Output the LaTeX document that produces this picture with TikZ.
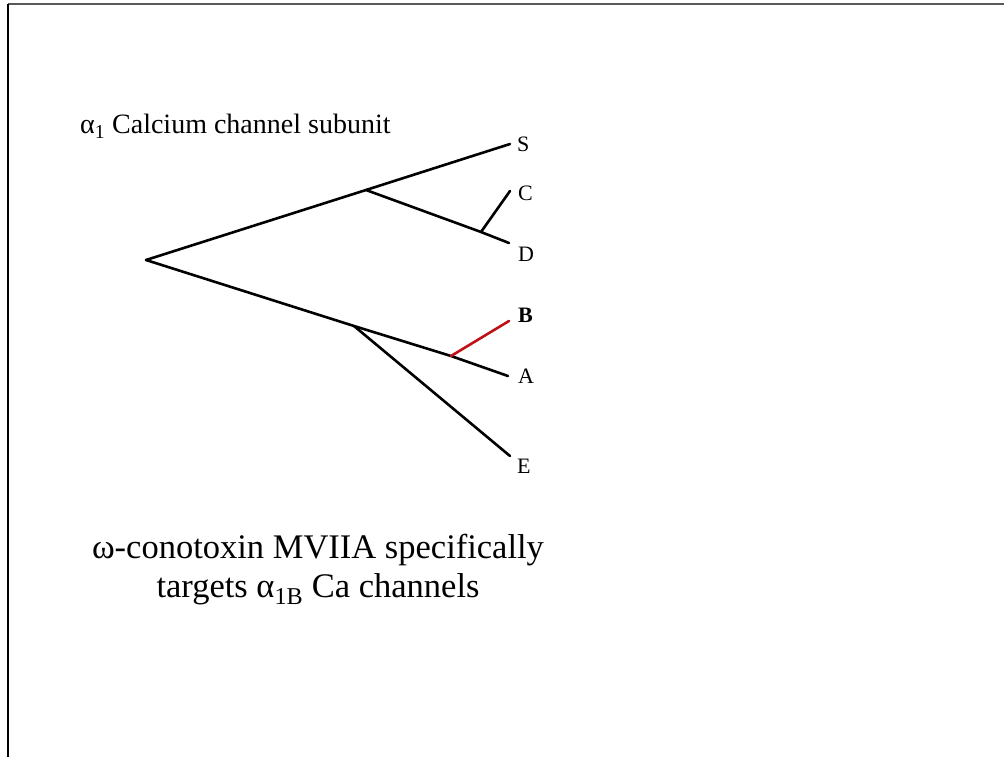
\documentclass[tikz,border=0pt]{standalone}
\usepackage{fontspec}
\setmainfont{Liberation Serif}
\usetikzlibrary{positioning}
\definecolor{branchred}{RGB}{192,16,24}
\tikzset{
  branch/.style={line width=2.6pt, line cap=round},
  leaf/.style={anchor=mid west, inner sep=0pt, font=\fontsize{22}{26}\selectfont},
}

\begin{document}
\begin{tikzpicture}[x=1pt, y=-1pt]
  \useasboundingbox (0,0) rectangle (1004,757);
  % frame
  \draw[gray!70!black, line width=1.5pt] (8,4) -- (1004,4);
  \draw[black, line width=1.5pt] (8,757) -- (8,4);
  % title
  \node[anchor=base west, inner sep=0pt, font=\fontsize{28}{32}\selectfont] (title) at (80,134)
    {α\textsubscript{1} Calcium channel subunit};
  % tree points
  \coordinate (root) at (146,260);
  \coordinate (up) at (366,190);
  \coordinate (cd) at (481,232);
  \coordinate (low) at (354,326);
  \coordinate (ab) at (451,356);
  \coordinate (tS) at (510,144);
  \coordinate (tC) at (510,191);
  \coordinate (tD) at (509,243);
  \coordinate (tB) at (509,321);
  \coordinate (tA) at (508,376);
  \coordinate (tE) at (510,456);
  % leaves
  \node[leaf] (S) at (517,149) {S};
  \node[leaf] (C) at (518,198) {C};
  \node[leaf] (D) at (518,259) {D};
  \node[leaf, font=\fontsize{22}{26}\selectfont\bfseries] (B) at (518,320) {B};
  \node[leaf] (A) at (518,381) {A};
  \node[leaf] (E) at (517,471) {E};
  % branches
  \draw[branch] (root) -- (up) -- (tS);
  \draw[branch] (up) -- (cd) -- (tD);
  \draw[branch] (cd) -- (tC);
  \draw[branch] (root) -- (low) -- (ab) -- (tA);
  \draw[branch] (low) -- (tE);
  \draw[branch, branchred] (ab) -- (tB);
  % caption
  \node[align=center, inner sep=0pt, font=\fontsize{34.5}{39}\selectfont, anchor=north] (caption) at (318,534)
    {ω-conotoxin MVIIA specifically\\ targets α\textsubscript{1B} Ca channels};
\end{tikzpicture}
\end{document}
